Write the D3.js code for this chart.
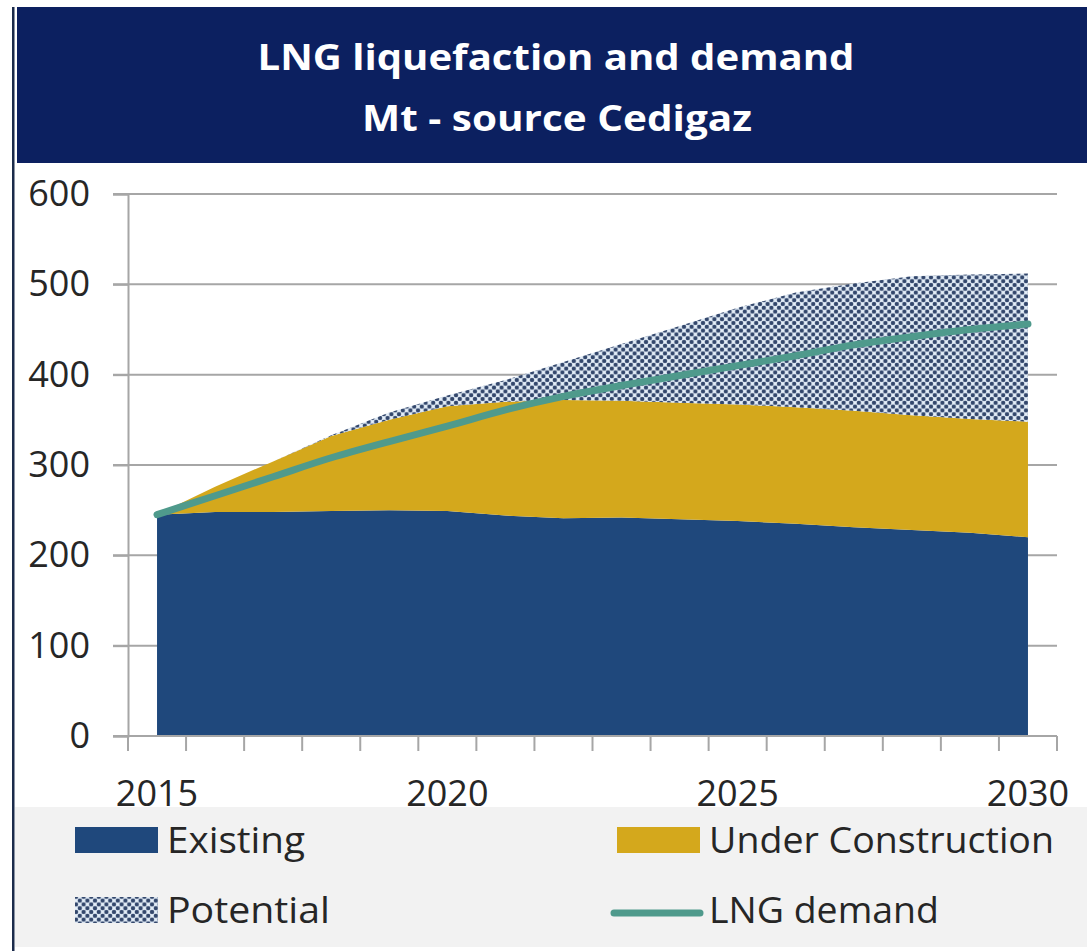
<!DOCTYPE html>
<html>
<head>
  <meta charset="utf-8">
  <title>LNG liquefaction and demand</title>
  <style type="text/css">
body{
  margin: 0;
  background: #ffffff;
}
text{
  font-family: "Open Sans", "Noto Sans", sans-serif;
}
  </style>
</head>
<body>
<div id="chartContainer"></div>
<script src="https://cdn.jsdelivr.net/npm/d3@7"></script>
<script type="text/javascript">
  // values (Mt)
  var years = [2015, 2016, 2017, 2018, 2019, 2020, 2021, 2022, 2023, 2024, 2025, 2026, 2027, 2028, 2029, 2030];
  var existing = [245, 248, 248, 249, 250, 249, 244, 241, 242, 240, 238, 235, 231, 228, 225, 220];
  var underConstruction = [0, 28, 56, 83, 100, 116, 126, 131, 129, 129, 129, 129, 129, 127, 126, 128];
  var potential = [0, 0, 0, 1, 8, 12, 24, 42, 63, 85, 107, 127, 141, 154, 160, 164];
  var demand = [245, 266, 287, 308, 326, 343, 361, 376, 388, 399, 410, 421, 433, 442, 450, 456];
  var yTicks = [0, 100, 200, 300, 400, 500, 600];
  var xLabels = [2015, 2020, 2025, 2030];

  var colExisting = "#1f487c",
      colUC = "#d4a81c",
      colLine = "#4f9a8c",
      colBanner = "#0c2060";

  var svg = d3.select("#chartContainer").append("svg")
      .attr("width", 1087)
      .attr("height", 951);

  // pattern for the "Potential" series
  var defs = svg.append("defs");
  var pat = defs.append("pattern")
      .attr("id", "dots")
      .attr("patternUnits", "userSpaceOnUse")
      .attr("width", 7.6)
      .attr("height", 7.6);
  pat.append("rect").attr("width", 7.6).attr("height", 7.6).attr("fill", "#e6f0fa");
  [[0, 0], [7.6, 0], [0, 7.6], [7.6, 7.6], [3.8, 3.8]].forEach(function (p) {
    pat.append("circle").attr("cx", p[0]).attr("cy", p[1]).attr("r", 2.2).attr("fill", "#33476c");
  });

  // frame and title banner
  svg.append("rect").attr("x", 12).attr("y", 7).attr("width", 2.5).attr("height", 944).attr("fill", "#1b2b4b");
  svg.append("rect").attr("x", 17).attr("y", 7).attr("width", 1070).attr("height", 156).attr("fill", colBanner);
  svg.append("text")
    .attr("x", 556).attr("y", 70)
    .attr("text-anchor", "middle")
    .attr("fill", "#ffffff")
    .style("font-size", "35px")
    .style("font-weight", "bold")
    .attr("textLength", 597).attr("lengthAdjust", "spacingAndGlyphs")
    .text("LNG liquefaction and demand");
  svg.append("text")
    .attr("x", 557).attr("y", 131)
    .attr("text-anchor", "middle")
    .attr("fill", "#ffffff")
    .style("font-size", "35px")
    .style("font-weight", "bold")
    .attr("textLength", 390).attr("lengthAdjust", "spacingAndGlyphs")
    .text("Mt - source Cedigaz");

  // legend background
  svg.append("rect").attr("x", 15).attr("y", 807).attr("width", 1072).attr("height", 140).attr("fill", "#f2f2f2");

  var x = d3.scaleBand().domain(years).range([128, 1057]).padding(0);
  var y = d3.scaleLinear().domain([0, 600]).range([736, 194]);
  var cx = function (yr) { return x(yr) + x.bandwidth() / 2; };

  // gridlines
  svg.append("g").selectAll("line")
    .data(yTicks.filter(function (d) { return d > 0; }))
    .enter().append("line")
      .attr("x1", 113).attr("x2", 1057)
      .attr("y1", function (d) { return y(d); })
      .attr("y2", function (d) { return y(d); })
      .attr("stroke", "#a6a6a6")
      .attr("stroke-width", 2);

  // stacked areas
  var rows = years.map(function (yr, i) {
    return { year: yr, existing: existing[i], uc: underConstruction[i], potential: potential[i] };
  });
  var stack = d3.stack().keys(["existing", "uc", "potential"]);
  var series = stack(rows);
  var area = d3.area()
    .x(function (d) { return cx(d.data.year); })
    .y0(function (d) { return y(d[0]); })
    .y1(function (d) { return y(d[1]); });
  var fills = { existing: colExisting, uc: colUC, potential: "url(#dots)" };
  svg.append("g").selectAll("path")
    .data(series)
    .enter().append("path")
      .attr("d", area)
      .attr("fill", function (d) { return fills[d.key]; });

  // axes
  var yAxis = svg.append("g").attr("transform", "translate(128,0)")
    .call(d3.axisLeft(y).tickValues(yTicks).tickSize(15).tickFormat(function (d) { return d; }));
  yAxis.select(".domain").attr("stroke", "#a6a6a6").attr("stroke-width", 2);
  yAxis.selectAll(".tick line").attr("stroke", "#a6a6a6").attr("stroke-width", 2);
  yAxis.selectAll(".tick text")
    .attr("x", -38)
    .attr("fill", "#262626")
    .style("font-size", "36px")
    .style("font-family", "\"Open Sans\", sans-serif");

  var xg = svg.append("g");
  xg.append("line")
    .attr("x1", 113).attr("x2", 1057)
    .attr("y1", y(0)).attr("y2", y(0))
    .attr("stroke", "#a6a6a6").attr("stroke-width", 2);
  xg.selectAll("line.tk")
    .data(years.concat(["end"]))
    .enter().append("line")
      .attr("class", "tk")
      .attr("x1", function (d) { return d === "end" ? x.range()[1] : x(d); })
      .attr("x2", function (d) { return d === "end" ? x.range()[1] : x(d); })
      .attr("y1", y(0)).attr("y2", y(0) + 15)
      .attr("stroke", "#a6a6a6").attr("stroke-width", 2);
  xg.selectAll("text")
    .data(xLabels)
    .enter().append("text")
      .attr("x", function (d) { return cx(d); })
      .attr("y", 806)
      .attr("text-anchor", "middle")
      .attr("fill", "#262626")
      .style("font-size", "36px")
      .text(function (d) { return d; });

  // demand line
  var line = d3.line()
    .x(function (d, i) { return cx(years[i]); })
    .y(function (d) { return y(d); })
    .curve(d3.curveCatmullRom.alpha(0.5));
  svg.append("path")
    .datum(demand)
    .attr("d", line)
    .attr("fill", "none")
    .attr("stroke", colLine)
    .attr("stroke-width", 7)
    .attr("stroke-linecap", "round");

  // legend
  var legend = [
    { name: "Existing", kind: "rect", fill: colExisting, x: 75, y: 853, w: 138 },
    { name: "Under Construction", kind: "rect", fill: colUC, x: 617, y: 853, w: 345 },
    { name: "Potential", kind: "rect", fill: "url(#dots)", x: 75, y: 923, w: 163 },
    { name: "LNG demand", kind: "line", fill: colLine, x: 617, y: 923, w: 230 }
  ];
  var lg = svg.append("g").selectAll("g")
    .data(legend)
    .enter().append("g");
  lg.filter(function (d) { return d.kind === "rect"; })
    .append("rect")
      .attr("x", function (d) { return d.x; })
      .attr("y", function (d) { return d.y - 26; })
      .attr("width", 83).attr("height", 26)
      .attr("fill", function (d) { return d.fill; });
  lg.filter(function (d) { return d.kind === "line"; })
    .append("line")
      .attr("x1", function (d) { return d.x - 3; })
      .attr("x2", function (d) { return d.x + 83; })
      .attr("y1", function (d) { return d.y - 10; })
      .attr("y2", function (d) { return d.y - 10; })
      .attr("stroke", function (d) { return d.fill; })
      .attr("stroke-width", 7)
      .attr("stroke-linecap", "round");
  lg.append("text")
    .attr("x", function (d) { return d.x + 92; })
    .attr("y", function (d) { return d.y; })
    .attr("fill", "#262626")
    .style("font-size", "37px")
    .attr("textLength", function (d) { return d.w; })
    .attr("lengthAdjust", "spacingAndGlyphs")
    .text(function (d) { return d.name; });
</script>
</body>
</html>
